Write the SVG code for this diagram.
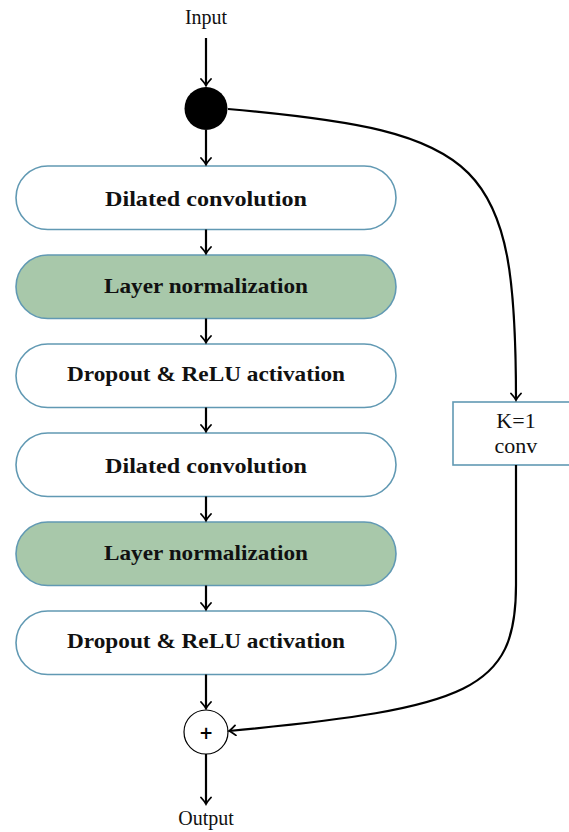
<svg xmlns="http://www.w3.org/2000/svg" width="569" height="832" viewBox="0 0 569 832">
<defs>
<style>
.box{stroke:#6199b3;stroke-width:1.6;fill:#ffffff}
.green{fill:#a8c8aa}
.lbl{font-family:"Liberation Serif","DejaVu Serif",serif;font-weight:bold;font-size:22px;fill:#111;text-anchor:middle}
.plain{font-family:"Liberation Serif","DejaVu Serif",serif;font-size:20px;fill:#111;text-anchor:middle}
.big{font-family:"Liberation Serif","DejaVu Serif",serif;font-size:22px;fill:#111;text-anchor:middle}
.edge{stroke:#000;stroke-width:2.2;fill:none;marker-end:url(#arr)}
</style>
<marker id="arr" viewBox="-8 -6 10 12" markerWidth="10" markerHeight="12" refX="0" refY="0" orient="auto" markerUnits="userSpaceOnUse">
<path d="M-6.5,-5 Q-2,-1 0,0 Q-2,1 -6.5,5" stroke="#000" stroke-width="1.8" fill="none" stroke-linecap="round"/>
</marker>
</defs>
<g id="input"><text class="plain" x="206" y="24">Input</text></g>
<g id="split"><circle cx="206" cy="108.5" r="21.5" fill="#000"/></g>
<g id="dilated1"><rect class="box" x="16" y="166" width="380" height="63.5" rx="31.75"/><text class="lbl" x="206" y="206" textLength="202" lengthAdjust="spacingAndGlyphs">Dilated convolution</text></g>
<g id="norm1"><rect class="box green" x="16" y="255" width="380" height="63.5" rx="31.75"/><text class="lbl" x="206" y="293" textLength="204" lengthAdjust="spacingAndGlyphs">Layer normalization</text></g>
<g id="drop1"><rect class="box" x="16" y="344" width="380" height="63.5" rx="31.75"/><text class="lbl" x="206" y="381" textLength="278" lengthAdjust="spacingAndGlyphs">Dropout &amp; ReLU activation</text></g>
<g id="dilated2"><rect class="box" x="16" y="433" width="380" height="63.5" rx="31.75"/><text class="lbl" x="206" y="473" textLength="202" lengthAdjust="spacingAndGlyphs">Dilated convolution</text></g>
<g id="norm2"><rect class="box green" x="16" y="522" width="380" height="63.5" rx="31.75"/><text class="lbl" x="206" y="560" textLength="204" lengthAdjust="spacingAndGlyphs">Layer normalization</text></g>
<g id="drop2"><rect class="box" x="16" y="611" width="380" height="63.5" rx="31.75"/><text class="lbl" x="206" y="648" textLength="278" lengthAdjust="spacingAndGlyphs">Dropout &amp; ReLU activation</text></g>
<g id="conv1"><rect class="box" x="453" y="402" width="126" height="63" rx="0"/><text class="big" x="516" y="428">K=1</text><text class="big" x="516" y="453">conv</text></g>
<g id="sum"><circle cx="206" cy="732" r="22" fill="#fff" stroke="#000" stroke-width="1.2"/><text x="206" y="738.5" font-family="'DejaVu Sans',sans-serif" font-weight="bold" font-size="17" text-anchor="middle">+</text></g>
<g id="output"><text class="plain" x="206" y="825">Output</text></g>
<g id="connectors">
<path class="edge" d="M206,38 V85.5"/>
<path class="edge" d="M206,130 V164.5"/>
<path class="edge" d="M206,229.5 V253.5"/>
<path class="edge" d="M206,318.5 V342.5"/>
<path class="edge" d="M206,407.5 V431.5"/>
<path class="edge" d="M206,496.5 V520.5"/>
<path class="edge" d="M206,585.5 V609.5"/>
<path class="edge" d="M206,674.5 V708.5"/>
<path class="edge" d="M206,754 V804"/>
<path class="edge" d="M228,109 C485,132 516,160 516,400"/>
<path class="edge" d="M516,465 L516,585 C516,690 470,708 229,731"/>
</g>
</svg>
